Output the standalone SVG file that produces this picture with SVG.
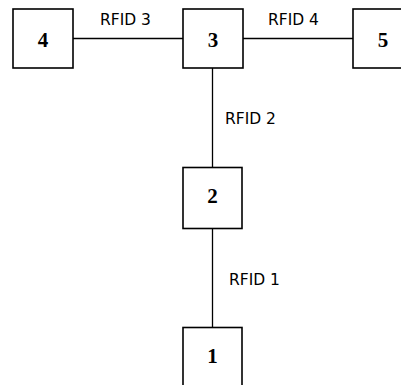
<svg xmlns="http://www.w3.org/2000/svg" width="401" height="385" viewBox="0 0 401 385">
  <style>
    .box { fill: #ffffff; stroke: #000000; stroke-width: 1.6; }
    .num { font-family: "Liberation Serif", "Times New Roman", serif; font-weight: bold; font-size: 21px; text-anchor: middle; fill: #000000; }
    .wire { stroke: #000000; stroke-width: 1.3; fill: none; }
    .lbl { font-family: "DejaVu Sans", Tahoma, sans-serif; font-size: 15.5px; fill: #000000; }
  </style>
  <rect width="401" height="385" fill="#ffffff"/>
  <g id="connectors">
    <line class="wire" x1="73" y1="38.5" x2="183" y2="38.5"/>
    <line class="wire" x1="243" y1="38.5" x2="353" y2="38.5"/>
    <line class="wire" x1="212.5" y1="68" x2="212.5" y2="167"/>
    <line class="wire" x1="212.5" y1="228" x2="212.5" y2="327"/>
    <text class="lbl" x="100" y="25">RFID 3</text>
    <text class="lbl" x="268" y="25">RFID 4</text>
    <text class="lbl" x="225" y="123.5">RFID 2</text>
    <text class="lbl" x="229" y="284.5">RFID 1</text>
  </g>
  <g id="node-4">
    <rect class="box" x="13" y="9" width="60" height="59"/>
    <text class="num" x="43" y="47">4</text>
  </g>
  <g id="node-3">
    <rect class="box" x="183" y="9" width="60" height="59"/>
    <text class="num" x="213" y="47">3</text>
  </g>
  <g id="node-5">
    <rect class="box" x="353" y="9" width="60" height="59"/>
    <text class="num" x="383" y="47">5</text>
  </g>
  <g id="node-2">
    <rect class="box" x="183" y="167.5" width="59" height="61"/>
    <text class="num" x="212.5" y="203">2</text>
  </g>
  <g id="node-1">
    <rect class="box" x="183" y="327.5" width="59" height="61"/>
    <text class="num" x="212.5" y="363">1</text>
  </g>
</svg>
